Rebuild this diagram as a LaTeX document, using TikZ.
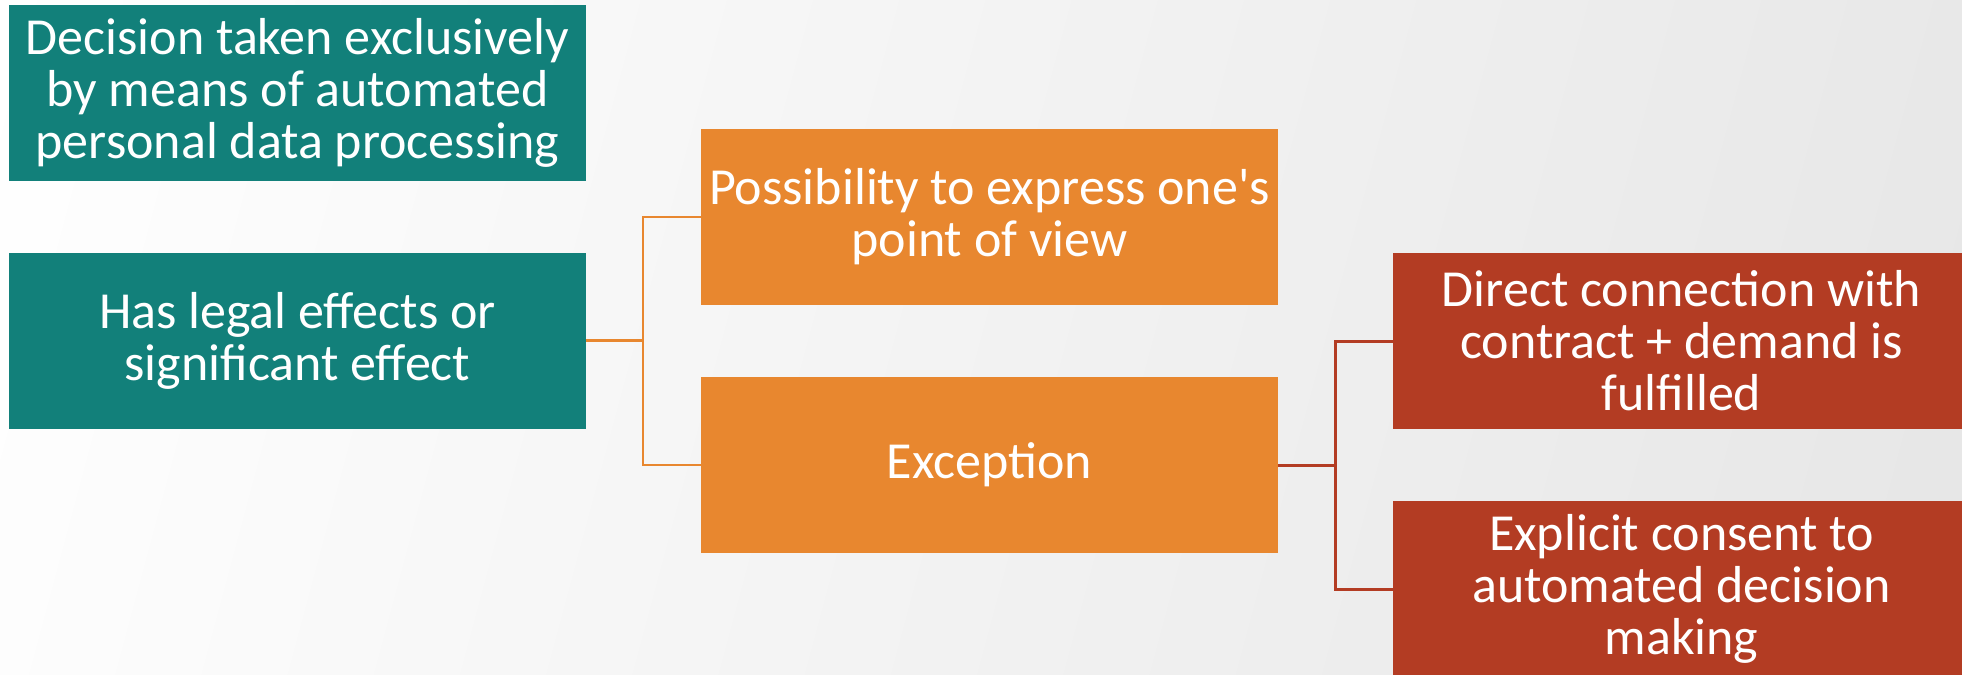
\documentclass[tikz,border=0pt]{standalone}
\usepackage{fontspec}
\setmainfont{Carlito}[Ligatures=TeXOff]
\definecolor{tealbox}{HTML}{12807A}
\definecolor{orangebox}{HTML}{E8872F}
\definecolor{redbox}{HTML}{B33C23}
\definecolor{bggray}{HTML}{E6E6E6}
\begin{document}
\begin{tikzpicture}[x=0.5pt,y=-0.5pt,
  box/.style={rectangle, minimum width=288.5pt, minimum height=88pt, inner sep=0pt,
    text=white, align=center, font=\fontsize{26}{26}\selectfont},
  tealnode/.style={box, fill=tealbox},
  orangenode/.style={box, fill=orangebox},
  rednode/.style={box, fill=redbox},
  oline/.style={draw=orangebox, line width=1.4pt},
  rline/.style={draw=redbox, line width=1.5pt}]
\useasboundingbox (0,0) rectangle (1962,674);
\begin{scope}
\clip (0,0) rectangle (1962,674);
\shade[left color=white, right color=bggray, shading angle=75] (-200,-200) rectangle (2162,874);
\node[tealnode] (t1) at (297.5,93) {Decision taken exclusively\\by means of automated\\personal data processing};
\node[tealnode] (t2) at (297.5,340.5) {Has legal effects or\\significant effect};
\node[orangenode] (o1) at (989.5,217) {Possibility to express one's\\point of view};
\node[orangenode] (o2) at (989.5,465) {Exception};
\node[rednode] (r1) at (1681.5,341) {Direct connection with\\contract + demand is\\fulfilled};
\node[rednode] (r2) at (1681.5,589) {Explicit consent to\\automated decision\\making};
\coordinate (jo) at (643,340.5);
\coordinate (jr) at (1335,465);
\draw[oline] (t2.east) -- (jo);
\draw[oline] (jo) |- (o1.west);
\draw[oline] (jo) |- (o2.west);
\draw[rline] (o2.east) -- (jr);
\draw[rline] (jr) |- (r1.west);
\draw[rline] (jr) |- (r2.west);
\end{scope}
\end{tikzpicture}
\end{document}
